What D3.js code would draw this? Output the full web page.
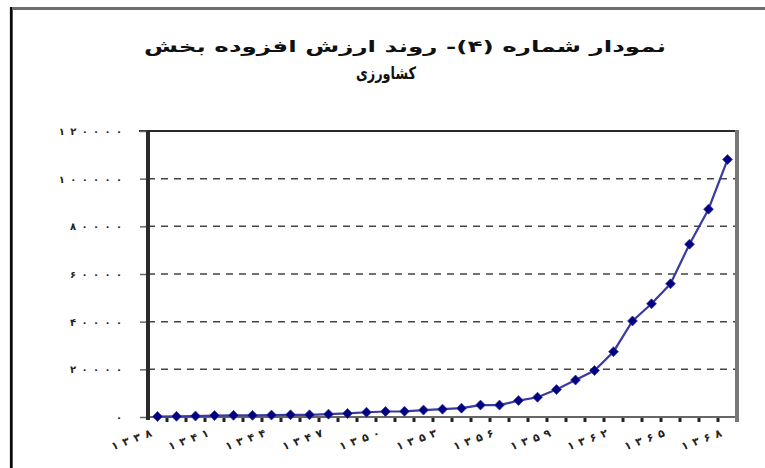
<!DOCTYPE html>
<html><head><meta charset="utf-8">
<script src="https://cdn.jsdelivr.net/npm/d3@7/dist/d3.min.js"></script>
<style>
html,body{margin:0;padding:0;background:#fff;}
svg{display:block;}
</style></head>
<body>
<svg id="c" width="765" height="468"></svg>
<script>
const titleLines = ["نمودار شماره (۴)- روند ارزش افزوده بخش", "کشاورزی"];
const years = d3.range(1338, 1369);
const values = [200, 300, 400, 600, 700, 700, 800, 900, 900, 1200, 1500, 2000, 2300, 2400, 2900, 3300, 3700, 5000, 5000, 6900, 8300, 11500, 15500, 19500, 27400, 40300, 47500, 55900, 72500, 87200, 108000];
const yTicks = [0, 20000, 40000, 60000, 80000, 100000, 120000];
const xLabelStep = 3;

const fa = s => String(s).replace(/\d/g, d => "۰۱۲۳۴۵۶۷۸۹"[+d]);

const svg = d3.select("#c");
const m = {left: 148, right: 737, top: 131, bottom: 417};

// outer frame
svg.append("line").attr("x1", 11.3).attr("x2", 11.3).attr("y1", 7).attr("y2", 468)
  .attr("stroke", "#0a0a0a").attr("stroke-width", 2.8);
svg.append("line").attr("x1", 12).attr("x2", 765).attr("y1", 8.4).attr("y2", 8.4)
  .attr("stroke", "#6e6e6e").attr("stroke-width", 3);

// title
const title = svg.append("g").attr("font-family", "DejaVu Sans").attr("font-weight", "bold")
  .attr("fill", "#111").attr("text-anchor", "middle");
title.append("text").attr("x", 405).attr("y", 52).attr("direction", "rtl").attr("font-size", 16)
  .attr("textLength", 522).attr("lengthAdjust", "spacingAndGlyphs").text(titleLines[0]);
title.append("text").attr("x", 386).attr("y", 79).attr("direction", "rtl").attr("font-size", 17)
  .attr("textLength", 60).attr("lengthAdjust", "spacingAndGlyphs").text(titleLines[1]);

const x = d3.scaleBand().domain(years).range([m.left, m.right]).padding(0);
const y = d3.scaleLinear().domain([0, 120000]).range([m.bottom, m.top]);

// gridlines
svg.append("g").selectAll("line").data(yTicks.filter(t => t > 0 && t < 120000)).join("line")
  .attr("x1", m.left).attr("x2", m.right).attr("y1", d => y(d)).attr("y2", d => y(d))
  .attr("stroke", "#444").attr("stroke-width", 1.5).attr("stroke-dasharray", "7,6");
// top solid line
svg.append("line").attr("x1", 139).attr("x2", m.right).attr("y1", y(120000)).attr("y2", y(120000))
  .attr("stroke", "#2a2a2a").attr("stroke-width", 2);

// y axis ticks
const yAxis = d3.axisLeft(y).tickValues(yTicks).tickSize(8).tickFormat(fa);
const gy = svg.append("g").attr("transform", `translate(${m.left},0)`).call(yAxis);
gy.select(".domain").remove();
gy.selectAll(".tick line").attr("stroke", "#666").attr("stroke-width", 1.5);
gy.selectAll(".tick text").attr("x", -26).attr("dy", "0.35em")
  .attr("font-family", "DejaVu Sans").attr("font-weight", "bold").attr("font-size", 10)
  .attr("fill", "#222").attr("direction", "ltr").attr("text-anchor", "end")
  .each(function(d) {
    const n = String(d).length;
    if (n > 1) d3.select(this).attr("textLength", 11.2 * n - 4).attr("lengthAdjust", "spacing");
  });

// x axis
const xAxis = d3.axisBottom(x).tickSize(0).tickFormat((d, i) => i % xLabelStep === 0 ? fa(d) : "");
const gx = svg.append("g").attr("transform", `translate(0,${m.bottom})`).call(xAxis);
gx.select(".domain").remove();
gx.selectAll(".tick text")
  .attr("font-family", "DejaVu Sans").attr("font-weight", "bold").attr("font-size", 11)
  .attr("fill", "#222").attr("text-anchor", "end").attr("direction", "ltr")
  .attr("transform", "translate(-5,19) rotate(-20)").attr("y", 0).attr("dy", 0)
  .each(function(d, i) {
    if (i % xLabelStep === 0) d3.select(this).attr("textLength", 42).attr("lengthAdjust", "spacing");
  });
// x tick marks at band boundaries
svg.append("g").selectAll("rect").data(years).join("rect")
  .attr("x", d => x(d) + x.bandwidth() - 1.5).attr("y", m.bottom + 1).attr("width", 3).attr("height", 4)
  .attr("fill", "#222");

// bottom axis line, right border, left axis
svg.append("line").attr("x1", m.left).attr("x2", m.right).attr("y1", m.bottom).attr("y2", m.bottom)
  .attr("stroke", "#666").attr("stroke-width", 2);
svg.append("line").attr("x1", 737).attr("x2", 737).attr("y1", m.top - 1).attr("y2", 422)
  .attr("stroke", "#777").attr("stroke-width", 4);
svg.append("line").attr("x1", m.left).attr("x2", m.left).attr("y1", m.top).attr("y2", 420)
  .attr("stroke", "#2a2a2a").attr("stroke-width", 4);

// series line
const cx = d => x(d) + x.bandwidth() / 2;
const line = d3.line().x((d, i) => cx(years[i])).y(d => y(d));
svg.append("path").datum(values).attr("d", line).attr("fill", "none")
  .attr("stroke", "#3a3aa0").attr("stroke-width", 2.2);

// markers (wide diamonds)
svg.append("g").selectAll("path").data(values).join("path")
  .attr("d", d3.symbol(d3.symbolDiamond, 40)())
  .attr("transform", (d, i) => `translate(${cx(years[i])},${y(d)}) scale(1.45,0.85)`)
  .attr("fill", "#000080").attr("stroke", "#3333a0").attr("stroke-width", 0.6);
</script>
</body></html>
